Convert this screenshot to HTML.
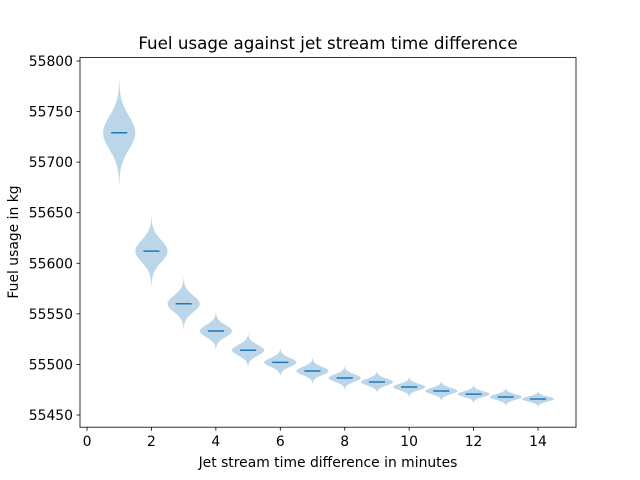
<!DOCTYPE html>
<html><head><meta charset="utf-8"><style>
body{margin:0;background:#fff;}
svg{display:block;font-family:"DejaVu Sans","Liberation Sans",sans-serif;}
</style></head><body>
<svg id="chart" width="640" height="480" viewBox="0 0 640 480">
<rect width="640" height="480" fill="#fff"/>
<text x="328" y="49" text-anchor="middle" font-size="16.7" fill="#000">Fuel usage against jet stream time difference</text>
<text x="328" y="467" text-anchor="middle" font-size="13.9" fill="#000">Jet stream time difference in minutes</text>
<text transform="translate(18,242) rotate(-90)" text-anchor="middle" font-size="13.9" fill="#000">Fuel usage in kg</text>
<g id="marks"></g>
<g id="axes"></g>
<rect x="80" y="57.6" width="496" height="369.6" fill="none" stroke="#000" stroke-width="0.8"/>
</svg>
<script>
const positions=[1,2,3,4,5,6,7,8,9,10,11,12,13,14];
const means=[55729,55612,55560,55533,55514,55502,55493.5,55486.6,55482.6,55477.7,55473.7,55470.7,55467.8,55465.8];
const spreads=[53,35,26,19,17,14,13,12,11,10,10,9,9,8];
const xTicks=[0,2,4,6,8,10,12,14];
const yTicks=[55450,55500,55550,55600,55650,55700,55750,55800];
const NS="http://www.w3.org/2000/svg";
function X(v){return 87+v*(538-87)/14;}
function Y(v){return 61+(55800-v)*(415-61)/350;}
const marks=document.getElementById('marks'), axes=document.getElementById('axes');
positions.forEach((p,i)=>{
  const m=means[i], s=spreads[i]/3.2, hw=0.5;
  let L=[],R=[];
  for(let k=0;k<=60;k++){
    const v=m-spreads[i]+2*spreads[i]*k/60;
    const w=hw*Math.exp(-0.5*((v-m)/s)**2);
    L.push(X(p-w).toFixed(2)+','+Y(v).toFixed(2));
    R.unshift(X(p+w).toFixed(2)+','+Y(v).toFixed(2));
  }
  const poly=document.createElementNS(NS,'polygon');
  poly.setAttribute('points',L.concat(R).join(' '));
  poly.setAttribute('fill','#1f77b4');poly.setAttribute('fill-opacity','0.3');
  
  
  marks.appendChild(poly);
  const ln=document.createElementNS(NS,'line');
  ln.setAttribute('x1',X(p-0.25));ln.setAttribute('x2',X(p+0.25));
  ln.setAttribute('y1',Y(m));ln.setAttribute('y2',Y(m));
  ln.setAttribute('stroke','#1f77b4');ln.setAttribute('stroke-width','1.5');
  
  
  marks.appendChild(ln);
});
xTicks.forEach(t=>{
  const l=document.createElementNS(NS,'line');
  l.setAttribute('x1',X(t));l.setAttribute('x2',X(t));l.setAttribute('y1',427.2);l.setAttribute('y2',430.7);
  l.setAttribute('stroke','#000');l.setAttribute('stroke-width','0.8');
  
  
  axes.appendChild(l);
  const tx=document.createElementNS(NS,'text');
  tx.setAttribute('x',X(t));tx.setAttribute('y',446);tx.setAttribute('text-anchor','middle');tx.setAttribute('font-size','13.9');
  tx.textContent=t;
  
  
  axes.appendChild(tx);
});
yTicks.forEach(t=>{
  const l=document.createElementNS(NS,'line');
  l.setAttribute('x1',76.5);l.setAttribute('x2',80);l.setAttribute('y1',Y(t));l.setAttribute('y2',Y(t));
  l.setAttribute('stroke','#000');l.setAttribute('stroke-width','0.8');
  
  
  axes.appendChild(l);
  const tx=document.createElementNS(NS,'text');
  tx.setAttribute('x',73);tx.setAttribute('y',Y(t)+5);tx.setAttribute('text-anchor','end');tx.setAttribute('font-size','13.9');
  tx.textContent=t;
  
  
  axes.appendChild(tx);
});
</script>
</body></html>
